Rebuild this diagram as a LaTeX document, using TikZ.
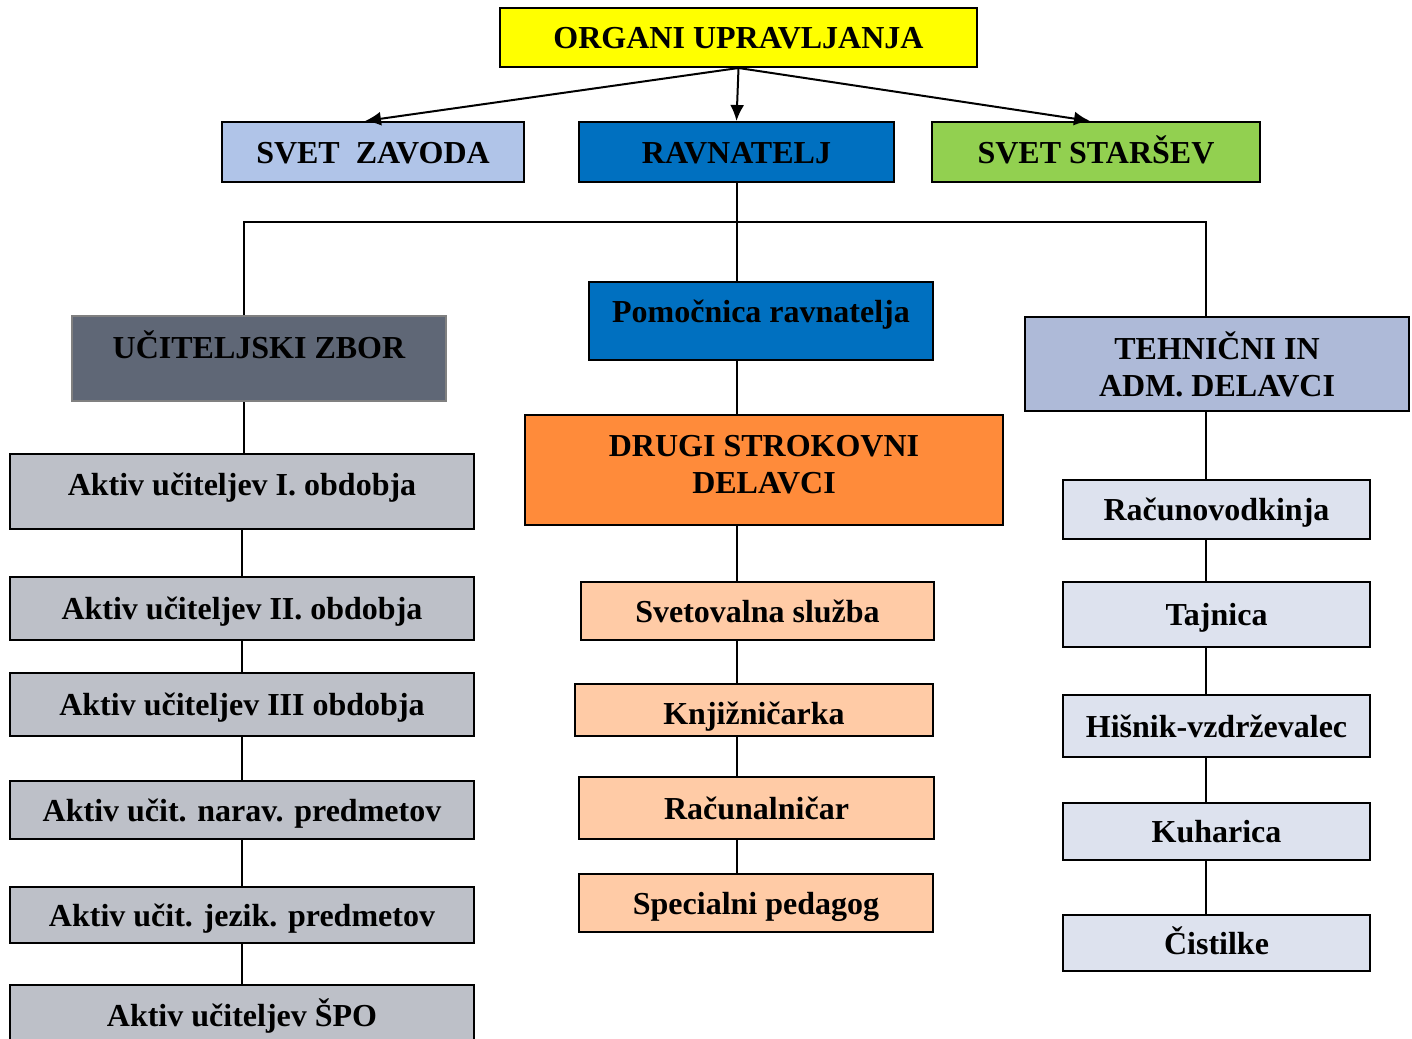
\documentclass[tikz,border=0pt]{standalone}
\usepackage{fontspec}
\setmainfont{Liberation Serif}
\usetikzlibrary{arrows.meta}

\definecolor{organ}{HTML}{FFFF00}
\definecolor{zavod}{HTML}{B0C4E8}
\definecolor{ravn}{HTML}{0070C0}
\definecolor{starsi}{HTML}{92D050}
\definecolor{zbor}{HTML}{5F6776}
\definecolor{tehn}{HTML}{AEBAD8}
\definecolor{drugi}{HTML}{FF8B3A}
\definecolor{aktiv}{HTML}{BDC0C8}
\definecolor{sodel}{HTML}{FFCBA6}
\definecolor{admin}{HTML}{DDE2EE}

\tikzstyle{box} = [draw, line width=1pt, inner sep=0pt, align=center,
	font=\fontsize{16}{18.5}\selectfont\bfseries]
\tikzstyle{single} = [box, text height=15.5pt, text depth=4.5pt]
\tikzstyle{arr} = [line width=1pt, -{Latex[length=8pt,width=7pt]}]
\tikzstyle{link} = [line width=1pt]

\begin{document}
\begin{tikzpicture}[x=0.5pt, y=-0.5pt]
\clip (0,0) rectangle (1412,1038);
\useasboundingbox (0,0) rectangle (1412,1038);

% top
\node [single, fill=organ, minimum width=238.5pt, minimum height=29.5pt] (organi) at (738.5,37.5) {ORGANI UPRAVLJANJA};
\node [single, fill=zavod, minimum width=151pt, minimum height=30pt] (zavod) at (373,152) {SVET\ \ ZAVODA};
\node [single, fill=ravn, minimum width=157.5pt, minimum height=30pt] (rav) at (736.5,152) {RAVNATELJ};
\node [single, fill=starsi, minimum width=164pt, minimum height=30pt] (starsev) at (1096,152) {SVET STARŠEV};

\draw [arr] (organi.south) -- ([xshift=-4pt]zavod.north);
\draw [arr] (organi.south) -- (rav.north);
\draw [arr] (organi.south) -- ([xshift=-3pt]starsev.north);

% second level
\node [single, fill=zbor, draw=gray, minimum width=187pt, minimum height=42.5pt, text height=12.5pt, text depth=13pt] (ucz) at (259,358.5) {UČITELJSKI ZBOR};
\node [single, fill=ravn, minimum width=172pt, minimum height=39pt, text height=12pt, text depth=10.5pt] (pom) at (761,321) {Pomočnica ravnatelja};
\node [box, fill=tehn, minimum width=192pt, minimum height=47pt] (teh) at (1217,364) {TEHNIČNI IN\\ADM. DELAVCI};
\node [box, fill=drugi, minimum width=239pt, minimum height=55pt, text depth=6pt] (drugi) at (764,470) {DRUGI STROKOVNI\\DELAVCI};

\coordinate (lt) at (244,222);
\coordinate (rt) at (1206,222);
\draw [link] (rav.south) -- (rav.south |- pom.north);
\draw [link] (lt |- ucz.north) -- (lt) -- (rt) -- (rt |- teh.north);
\draw [link] (rav |- pom.south) -- (rav |- drugi.north);

% left column
\node [single, fill=aktiv, minimum width=232pt, minimum height=37.5pt, text height=11.5pt, text depth=8pt] (akt1) at (242,491.5) {Aktiv učiteljev I. obdobja};
\node [single, fill=aktiv, minimum width=232pt, minimum height=31.5pt] (akt2) at (242,608.5) {Aktiv učiteljev II. obdobja};
\node [single, fill=aktiv, minimum width=232pt, minimum height=31.5pt] (akt3) at (242,704.5) {Aktiv učiteljev III obdobja};
\node [single, fill=aktiv, minimum width=232pt, minimum height=29pt] (akt4) at (242,810) {Aktiv učit. narav. predmetov};
\node [single, fill=aktiv, minimum width=232pt, minimum height=28pt] (akt5) at (242,915) {Aktiv učit. jezik. predmetov};
\node [single, fill=aktiv, minimum width=232pt, minimum height=30pt] (akt6) at (242,1015) {Aktiv učiteljev ŠPO};

\draw [link] (lt |- ucz.south) -- (lt |- akt1.north);
\foreach \a/\b in {akt1/akt2, akt2/akt3, akt3/akt4, akt4/akt5, akt5/akt6}
	\draw [link] (\a.south) -- (\b.north);

% middle column
\node [single, fill=sodel, minimum width=176.5pt, minimum height=29pt] (svet) at (757.5,611) {Svetovalna služba};
\node [single, fill=sodel, minimum width=179pt, minimum height=26pt, text height=18.5pt] (knj) at (754,710) {Knjižničarka};
\node [single, fill=sodel, minimum width=177.5pt, minimum height=31pt] (rac) at (756.5,808) {Računalničar};
\node [single, fill=sodel, minimum width=177pt, minimum height=29pt] (spec) at (756,903) {Specialni pedagog};

\foreach \a/\b in {drugi/svet, svet/knj, knj/rac, rac/spec}
	\draw [link] (rav |- \a.south) -- (rav |- \b.north);

% right column
\node [single, fill=admin, minimum width=153.5pt, minimum height=29.5pt] (racun) at (1216.5,509.5) {Računovodkinja};
\node [single, fill=admin, minimum width=153.5pt, minimum height=32.5pt] (taj) at (1216.5,614.5) {Tajnica};
\node [single, fill=admin, minimum width=153.5pt, minimum height=31pt] (his) at (1216.5,726) {Hišnik-vzdrževalec};
\node [single, fill=admin, minimum width=153.5pt, minimum height=28.5pt] (kuh) at (1216.5,831.5) {Kuharica};
\node [single, fill=admin, minimum width=153.5pt, minimum height=28pt] (cist) at (1216.5,943) {Čistilke};

\foreach \a/\b in {teh/racun, racun/taj, taj/his, his/kuh, kuh/cist}
	\draw [link] (rt |- \a.south) -- (rt |- \b.north);
\end{tikzpicture}
\end{document}
